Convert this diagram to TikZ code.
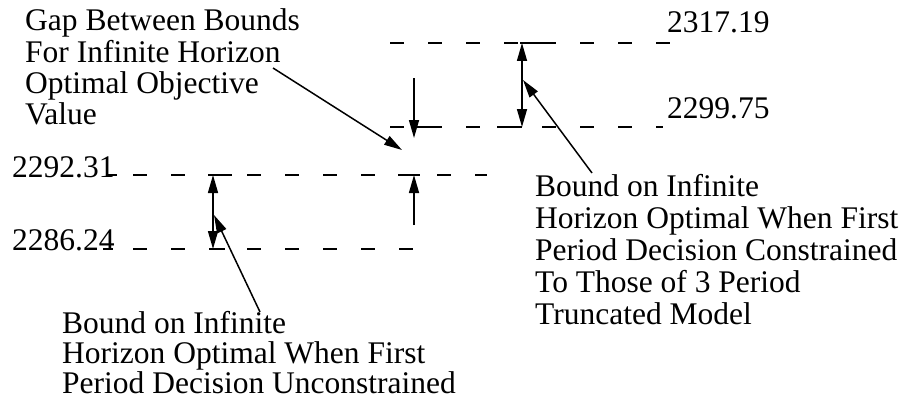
\documentclass[tikz,border=0pt]{standalone}
\usepackage{fontspec}
\setmainfont{Liberation Serif}
\usetikzlibrary{arrows.meta}
\begin{document}
\begin{tikzpicture}[x=1pt,y=-1pt,
  txt/.style={anchor=base west, inner sep=0pt, align=left,
    font=\fontsize{31.5}{31}\selectfont},
  bound/.style={line width=1.4pt, dash pattern=on 14pt off 24pt},
  tick/.style={line width=1.4pt},
  arr/.style={line width=1.5pt, -{Triangle[length=18pt,width=10pt]}},
  dbl/.style={line width=1.5pt, {Triangle[length=18pt,width=10pt]}-{Triangle[length=18pt,width=10pt]}}]
\useasboundingbox (0,0) rectangle (904,404);

% value labels
\node[txt] (v1) at (667,33)  {2317.19};
\node[txt] (v2) at (667,118) {2299.75};
\node[txt] (v3) at (12,177)  {2292.31};
\node[txt] (v4) at (12,250)  {2286.24};

% explanatory texts (placed by the baseline of their last line)
\node[txt] (gap) at (25,124) {Gap Between Bounds\\For Infinite Horizon\\Optimal Objective\\Value};
\node[txt, font=\fontsize{31.5}{32}\selectfont] (bcon) at (535,324)
  {Bound on Infinite\\Horizon Optimal When First\\Period Decision Constrained\\To Those of 3 Period\\Truncated Model};
\node[txt, font=\fontsize{31.5}{30}\selectfont] (bunc) at (62,393)
  {Bound on Infinite\\Horizon Optimal When First\\Period Decision Unconstrained};

% dashed bound levels
\draw[bound] (390,43) -- (672,43);
\draw[bound] (390,127) -- (663,127);
\draw[bound] (107,175) -- (117,175) (133,175) -- (487,175);
\draw[bound] (103,249) -- (113,249) (133,249) -- (415,249);

% solid pieces where arrows meet the levels
\draw[tick] (520,43) -- (543,43);
\draw[tick] (497,127) -- (522,127);
\draw[tick] (415,127) -- (440,127);
\draw[tick] (208,175) -- (232,175);
\draw[tick] (398,175) -- (420,175);
\draw[tick] (212,249) -- (225,249);

% arrow end points
\coordinate (ca) at (522,43);
\coordinate (cb) at (522,127);
\coordinate (cc) at (213,175);
\coordinate (cd) at (213,249);
\coordinate (dn0) at (414,78);
\coordinate (dn1) at (414,138);
\coordinate (up0) at (414,225);
\coordinate (up1) at (414,175);
\coordinate (g0) at (273,68);
\coordinate (g1) at (402,150);
\coordinate (r0) at (592,173);
\coordinate (r1) at (523,80);
\coordinate (l0) at (260,312);
\coordinate (l1) at (214,215);

\draw[dbl] (ca) -- (cb);
\draw[dbl] (cc) -- (cd);
\draw[arr] (dn0) -- (dn1);
\draw[arr] (up0) -- (up1);
\draw[arr] (g0) -- (g1);
\draw[arr] (r0) -- (r1);
\draw[arr] (l0) -- (l1);
\end{tikzpicture}
\end{document}
